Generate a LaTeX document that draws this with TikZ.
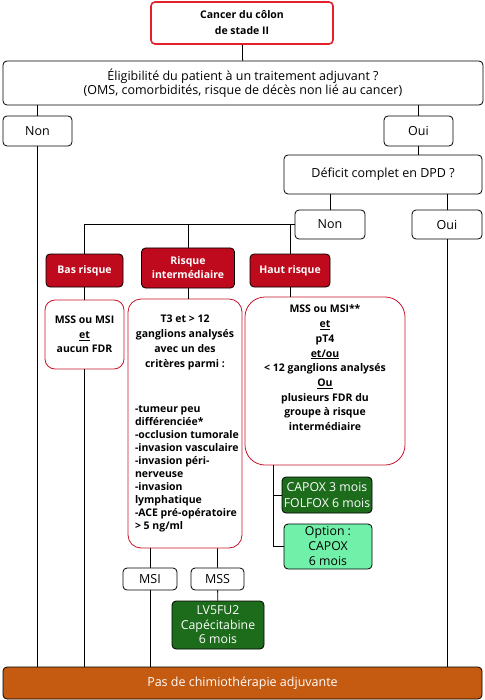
\documentclass[tikz,border=0pt]{standalone}
\usepackage{fontspec}
\setmainfont{Open Sans}
\definecolor{rougevif}{HTML}{E4202A}
\definecolor{rougefonce}{HTML}{BE0A1C}
\definecolor{rougetrait}{HTML}{C8142A}
\definecolor{vertfonce}{HTML}{1C6C1C}
\definecolor{vertclair}{HTML}{70F0A8}
\definecolor{orangebar}{HTML}{C55A11}

\begin{document}
\begin{tikzpicture}[x=1pt,y=-1pt,line width=.8pt,
  every node/.style={font=\fontsize{12.5}{13.5}\selectfont},
  boite/.style={draw,fill=white,rounded corners=4pt,align=center,inner sep=0pt},
  risque/.style={boite,fill=rougefonce,text=white,font=\bfseries\fontsize{10.5}{14}\selectfont},
  critere/.style={boite,draw=rougetrait,font=\bfseries\fontsize{10.5}{14.7}\selectfont},
  traitement/.style={boite,fill=vertfonce,text=white,font=\fontsize{12.3}{16}\selectfont}]
  \useasboundingbox (0,0) rectangle (484,700);
  % tronc commun
  \node[boite,draw=rougevif,line width=1.6pt,minimum width=182,minimum height=42,
    font=\bfseries\fontsize{10.5}{16}\selectfont] (cancer) at (242,23) {Cancer du côlon\\de stade II};
  \node[boite,minimum width=480,minimum height=44] (eligible) at (243,83)
    {Éligibilité du patient à un traitement adjuvant ?\\(OMS, comorbidités, risque de décès non lié au cancer)};
  \node[boite,minimum width=69,minimum height=30] (nonA) at (37.5,131) {Non};
  \node[boite,minimum width=69,minimum height=30] (ouiA) at (418.5,131) {Oui};
  \node[boite,minimum width=198,minimum height=39] (dpd) at (383,174.5) {Déficit complet en DPD ?};
  \node[boite,minimum width=70,minimum height=29] (nonB) at (330,224.5) {Non};
  \node[boite,minimum width=70,minimum height=29] (ouiB) at (447,224.5) {Oui};
  % groupes de risque
  \node[risque,minimum width=77,minimum height=33] (bas) at (84.5,270.5) {Bas risque};
  \node[risque,minimum width=93,minimum height=40] (inter) at (188,268) {Risque\\intermédiaire};
  \node[risque,minimum width=80,minimum height=33] (haut) at (290,270.5) {Haut risque};
  \node[critere,rounded corners=10pt,minimum width=79,minimum height=69] (crit1) at (84.5,334.5)
    {MSS ou MSI\\\underline{et}\\aucun FDR};
  \node[critere,rounded corners=13pt,minimum width=114,minimum height=249,text width=110,
    align=none] (crit2) at (185,423.5)
    {\centering T3 et > 12\\ganglions analysés\\avec un des\\critères parmi :\par
     \vspace{32pt}\fontsize{10.5}{13}\selectfont\raggedright\leftskip=5pt
     -tumeur peu\\différenciée*\\-occlusion tumorale\\-invasion vasculaire\\-invasion péri-\\nerveuse\\
     -invasion\\lymphatique\\-ACE pré-opératoire\\> 5 ng/ml\par};
  \node[critere,rounded corners=20pt,minimum width=160,minimum height=168] (crit3) at (325,381) {};
  \node[anchor=north,align=center,inner sep=0pt,font=\bfseries\fontsize{10.5}{14.7}\selectfont]
    (crit3txt) at ([yshift=-8]crit3.north)
    {MSS ou MSI**\\\underline{et}\\pT4\\\underline{et/ou}\\< 12 ganglions analysés\\\underline{Ou}\\
     plusieurs FDR du\\groupe à risque\\intermédiaire};
  % traitements
  \node[traitement,minimum width=90,minimum height=36] (capox) at (327,495) {CAPOX 3 mois\\FOLFOX 6 mois};
  \node[boite,fill=vertclair,minimum width=88,minimum height=45,font=\fontsize{12.3}{15}\selectfont]
    (option) at (328,546.5) {Option :\\CAPOX\\6 mois};
  \node[boite,minimum width=54,minimum height=22] (msi) at (150,579) {MSI};
  \node[boite,minimum width=53,minimum height=22] (mss) at (217.5,579) {MSS};
  \node[traitement,minimum width=92,minimum height=48,font=\fontsize{12.3}{14.5}\selectfont]
    (lv5fu2) at (218,625) {LV5FU2\\Capécitabine\\6 mois};
  \node[boite,fill=orangebar,text=white,minimum width=479,minimum height=32] (pasdechimio) at (242.5,683)
    {Pas de chimiothérapie adjuvante};
  % liaisons
  \draw (cancer) -- (eligible);
  \draw (nonA |- eligible.south) -- (nonA);
  \draw (ouiA |- eligible.south) -- (ouiA) -- (ouiA |- dpd.north);
  \draw (nonB |- dpd.south) -- (nonB);
  \draw (ouiB |- dpd.south) -- (ouiB);
  \draw (nonB.west) -- (bas |- nonB.west) -- (bas);
  \draw (inter |- nonB.west) -- (inter);
  \draw (haut |- nonB.west) -- (haut);
  \draw (bas) -- (crit1);
  \draw (inter) -- (inter |- crit2.north);
  \draw (haut) -- (haut |- crit3.north);
  \coordinate (branche) at (273,465);
  \draw (branche) |- (capox.west);
  \draw (branche) |- (option.west);
  \draw (msi |- crit2.south) -- (msi);
  \draw (mss |- crit2.south) -- (mss) -- (lv5fu2);
  \foreach \n in {nonA,crit1,msi,ouiB}
    \draw (\n) -- (\n |- pasdechimio.north);
\end{tikzpicture}
\end{document}
